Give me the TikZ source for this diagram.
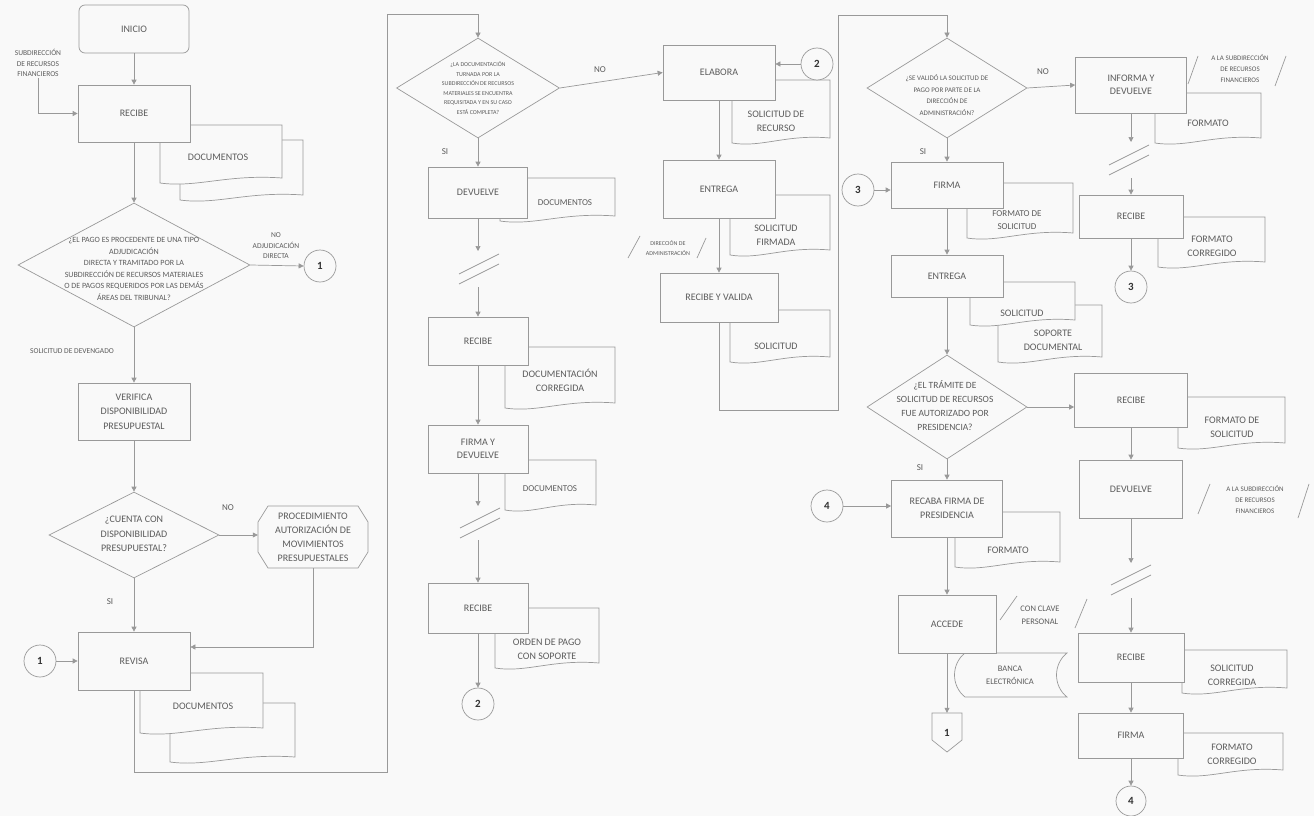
\documentclass[tikz,border=0pt]{standalone}
\usepackage{fontspec}
\setmainfont{Carlito}
\usetikzlibrary{arrows.meta,shapes.geometric,calc}
\definecolor{linec}{gray}{0.6}
\definecolor{txtc}{gray}{0.36}
\definecolor{bg}{gray}{0.975}
\newcommand{\docsh}[4]{\path[docst] (#1,#2) -- (#3,#2) -- (#3,{#4-5}) .. controls ({#1+0.55*(#3-#1)},{#4-9}) and ({#1+0.3*(#3-#1)},{#4+5}) .. (#1,#4) -- cycle;}
\newcommand{\brk}[2]{\draw[ln] ({#1-20},{#2+5}) -- ({#1+20},{#2-15}); \draw[ln] ({#1-20},{#2+15}) -- ({#1+20},{#2-5});}
\begin{document}
\begin{tikzpicture}[x=1pt,y=-1pt,
  every node/.style={text=txtc, align=center, inner sep=1pt},
  ln/.style={draw=linec, line width=0.7pt},
  arr/.style={ln, -{Triangle[length=5pt,width=5pt]}},
  proc/.style={draw=linec, fill=bg, line width=0.7pt, font=\fontsize{10}{13.5}\selectfont},
  dec/.style={draw=linec, fill=bg, line width=0.7pt, diamond, inner sep=0pt},
  conn/.style={draw=linec, fill=bg, circle, line width=0.7pt, minimum size=32pt, inner sep=0pt, font=\fontsize{11}{13}\selectfont\bfseries, text=black!80},
  docst/.style={draw=linec, fill=bg, line width=0.7pt},
  dt/.style={font=\fontsize{10}{14}\selectfont},
  lb/.style={font=\fontsize{7.5}{10.5}\selectfont},
  tl/.style={font=\fontsize{6}{9.5}\selectfont},
  yn/.style={font=\fontsize{9}{11}\selectfont}
]
\fill[bg] (0,0) rectangle (1314,816);
\useasboundingbox (0,0) rectangle (1314,816);

% ---------------- column 1
\node[proc, rounded corners=6pt, minimum width=110pt, minimum height=48pt] (inicio) at (134,29) {INICIO};
\node[lb] (lblsrf) at (38,63) {SUBDIRECCIÓN\\DE RECURSOS\\FINANCIEROS};
\docsh{180}{140}{303}{200}
\docsh{160}{125}{282}{183}
\node[proc, minimum width=112pt, minimum height=57pt] (recibe1) at (134,113.5) {RECIBE};
\node[dt] (t1) at (218,157) {DOCUMENTOS};
\node[dec, minimum width=232pt, minimum height=124pt] (d1) at (134,265) {};
\node[font=\fontsize{8}{11.5}\selectfont] (d1t) at (134,269) {¿EL PAGO ES PROCEDENTE DE UNA TIPO\\ADJUDICACIÓN\\DIRECTA Y TRAMITADO POR LA\\SUBDIRECCIÓN DE RECURSOS MATERIALES\\O DE PAGOS REQUERIDOS POR LAS DEMÁS\\ÁREAS DEL TRIBUNAL?};
\node[lb] (lno1) at (276,246) {NO\\ADJUDICACIÓN\\DIRECTA};
\node[conn] (c1a) at (320,266) {1};
\node[lb] (lsol) at (72,351) {SOLICITUD DE DEVENGADO};
\node[proc, minimum width=112pt, minimum height=57pt, font=\fontsize{10}{14.5}\selectfont] (verifica) at (134,411.5) {VERIFICA\\DISPONIBILIDAD\\PRESUPUESTAL};
\node[dec, minimum width=170pt, minimum height=86pt] (d2) at (134,535) {};
\node[font=\fontsize{10}{14.5}\selectfont] (d2t) at (134,534) {¿CUENTA CON\\DISPONIBILIDAD\\PRESUPUESTAL?};
\node[yn] (lno2) at (228,508) {NO};
\path[docst] (268,506) -- (358,506) -- (368,522) -- (368,552) -- (358,568) -- (268,568) -- (258,552) -- (258,522) -- cycle;
\node[minimum width=110pt, minimum height=62pt, font=\fontsize{10}{14}\selectfont] (hex) at (313,537) {PROCEDIMIENTO\\AUTORIZACIÓN DE\\MOVIMIENTOS\\PRESUPUESTALES};
\node[yn] (lsi2) at (110,602) {SI};
\docsh{170}{703}{295}{762}
\docsh{140}{673}{263}{733}
\node[proc, minimum width=112pt, minimum height=58pt] (revisa) at (134,661) {REVISA};
\node[dt] (t2) at (203,706) {DOCUMENTOS};
\node[conn] (c1b) at (40,661) {1};

% ---------------- column 2
\node[dec, minimum width=163pt, minimum height=100pt] (d3) at (478,88) {};
\node[tl] (d3t) at (478,88) {¿LA DOCUMENTACIÓN\\TURNADA POR LA\\SUBDIRECCIÓN DE RECURSOS\\MATERIALES SE ENCUENTRA\\REQUISITADA Y EN SU CASO\\ESTÁ COMPLETA?};
\node[yn] (lno3) at (600,70) {NO};
\node[yn] (lsi3) at (445,152) {SI};
\docsh{500}{178}{615}{221}
\node[proc, minimum width=99pt, minimum height=51pt] (devuelve1) at (478,192.5) {DEVUELVE};
\node[font=\fontsize{9}{12}\selectfont] (t3) at (565,203) {DOCUMENTOS};
\docsh{505}{347}{615}{408}
\node[proc, minimum width=100pt, minimum height=48pt] (recibe2) at (478,341) {RECIBE};
\node[dt] (t4) at (560,380) {DOCUMENTACIÓN\\CORREGIDA};
\docsh{505}{460}{596}{510}
\node[proc, minimum width=100pt, minimum height=48pt] (firmadev) at (478,449) {FIRMA Y\\DEVUELVE};
\node[font=\fontsize{9}{12}\selectfont] (t5) at (550,489) {DOCUMENTOS};
\docsh{495}{608}{599}{668}
\node[proc, minimum width=100pt, minimum height=50pt] (recibe3) at (478,608) {RECIBE};
\node[dt] (t6) at (547,649) {ORDEN DE PAGO\\CON SOPORTE};
\node[conn] (c2a) at (478,704) {2};

% ---------------- column 3
\docsh{732}{80}{830}{143}
\node[proc, minimum width=112pt, minimum height=55pt] (elabora) at (719,72.5) {ELABORA};
\node[dt] (t7) at (776,121) {SOLICITUD DE\\RECURSO};
\node[conn] (c2b) at (817,64) {2};
\docsh{730}{195}{830}{255}
\node[proc, minimum width=112pt, minimum height=58pt] (entrega1) at (719,189) {ENTREGA};
\node[dt] (t8) at (776,235) {SOLICITUD\\FIRMADA};
\node[tl] (ldir) at (668,248) {DIRECCIÓN DE\\ADMINISTRACIÓN};
\draw[ln] (628,258) -- (640,236);
\draw[ln] (697,258) -- (706,238);
\docsh{730}{310}{830}{362}
\node[proc, minimum width=118pt, minimum height=49pt] (ryv) at (719,297.5) {RECIBE Y VALIDA};
\node[dt] (t9) at (776,346) {SOLICITUD};

% ---------------- column 4
\node[dec, minimum width=160pt, minimum height=100pt] (d4) at (947,88) {};
\node[font=\fontsize{7}{11.5}\selectfont] (d4t) at (947,95) {¿SE VALIDÓ LA SOLICITUD DE\\PAGO POR PARTE DE LA\\DIRECCIÓN DE\\ADMINISTRACIÓN?};
\node[yn] (lno4) at (1043,72) {NO};
\node[yn] (lsi4) at (923,152) {SI};
\docsh{967}{183}{1073}{238}
\node[proc, minimum width=112pt, minimum height=46pt] (firma1) at (947,185) {FIRMA};
\node[font=\fontsize{9}{13}\selectfont] (t10) at (1017,220) {FORMATO DE\\SOLICITUD};
\node[conn] (c3b) at (858,190) {3};
\docsh{998}{305}{1102}{362}
\docsh{970}{282}{1075}{325}
\node[proc, minimum width=112pt, minimum height=42pt] (entrega2) at (947,276) {ENTREGA};
\node[dt] (t11) at (1022,313) {SOLICITUD};
\node[dt] (t12) at (1053,340) {SOPORTE\\DOCUMENTAL};
\node[dec, minimum width=160pt, minimum height=104pt] (d5) at (947,407) {};
\node[font=\fontsize{9.5}{14}\selectfont] (d5t) at (945,406) {¿EL TRÁMITE DE\\SOLICITUD DE RECURSOS\\FUE AUTORIZADO POR\\PRESIDENCIA?};
\node[yn] (lsi5) at (920,468) {SI};
\docsh{955}{512}{1060}{567}
\node[proc, minimum width=111pt, minimum height=57pt] (recaba) at (947,508.5) {RECABA FIRMA DE\\PRESIDENCIA};
\node[dt] (t13) at (1008,550) {FORMATO};
\node[conn] (c4b) at (827,506) {4};
\path[docst] (965,653) -- (1067,653) .. controls (1053,664) and (1053,686) .. (1067,697) -- (965,697) .. controls (951,686) and (951,664) .. (965,653) -- cycle;
\node[proc, minimum width=98pt, minimum height=58pt] (accede) at (947,624) {ACCEDE};
\node[font=\fontsize{8.5}{13}\selectfont] (lcon) at (1040,615) {CON CLAVE\\PERSONAL};
\draw[ln] (1000,620) -- (1017,596);
\draw[ln] (1075,628) -- (1087,599);
\node[font=\fontsize{8.5}{13}\selectfont] (t14) at (1010,675) {BANCA\\ELECTRÓNICA};
\path[docst] (932,713) -- (962,713) -- (962,740) -- (947,752) -- (932,740) -- cycle;
\node[minimum width=30pt, minimum height=39pt, font=\fontsize{11}{13}\selectfont\bfseries, text=black!80] (off1) at (947,732.5) {1};

% ---------------- column 5
\docsh{1155}{93}{1261}{143}
\node[proc, minimum width=111pt, minimum height=56pt] (informa) at (1131,85) {INFORMA Y\\DEVUELVE};
\node[dt] (t15) at (1208,123) {FORMATO};
\node[font=\fontsize{7}{11}\selectfont] (la1) at (1240,69) {A LA SUBDIRECCIÓN\\DE RECURSOS\\FINANCIEROS};
\draw[ln] (1188,84) -- (1198,56);
\draw[ln] (1275,86) -- (1286,56);
\docsh{1158}{217}{1265}{267}
\node[proc, minimum width=104pt, minimum height=43pt] (recibe4) at (1131,216.5) {RECIBE};
\node[dt] (t16) at (1212,246) {FORMATO\\CORREGIDO};
\node[conn] (c3a) at (1131,287) {3};
\docsh{1178}{397}{1285}{448}
\node[proc, minimum width=113pt, minimum height=54pt] (recibe5) at (1131,400) {RECIBE};
\node[dt] (t17) at (1232,427) {FORMATO DE\\SOLICITUD};
\node[proc, minimum width=103pt, minimum height=58pt] (devuelve2) at (1131,489) {DEVUELVE};
\node[font=\fontsize{7}{11}\selectfont] (la2) at (1255,500) {A LA SUBDIRECCIÓN\\DE RECURSOS\\FINANCIEROS};
\draw[ln] (1198,514) -- (1210,484);
\draw[ln] (1298,518) -- (1309,484);
\docsh{1182}{650}{1287}{693}
\node[proc, minimum width=106pt, minimum height=49pt] (recibe6) at (1131,657.5) {RECIBE};
\node[dt] (t18) at (1232,675) {SOLICITUD\\CORREGIDA};
\docsh{1178}{733}{1283}{775}
\node[proc, minimum width=105pt, minimum height=45pt] (firma2) at (1131,735.5) {FIRMA};
\node[dt] (t19) at (1232,754) {FORMATO\\CORREGIDO};
\node[conn, minimum size=30pt] (c4a) at (1131,801) {4};

% ---------------- coordinates
\coordinate (l1a) at (134,772);
\coordinate (l1b) at (387,772);
\coordinate (l1c) at (387,14);
\coordinate (l1d) at (478,14);
\coordinate (l2a) at (719,410);
\coordinate (l2b) at (838,410);
\coordinate (l2c) at (838,15);
\coordinate (l2d) at (947,15);
\coordinate (b1t) at (478,251);
\coordinate (b1b) at (478,287);
\coordinate (b2t) at (478,506);
\coordinate (b2b) at (478,540);
\coordinate (b3t) at (1131,142);
\coordinate (b3b) at (1131,178);
\coordinate (b4t) at (1131,563);
\coordinate (b4b) at (1131,598);

% ---------------- connectors
\draw[arr] (inicio.south) -- (recibe1.north);
\draw[arr] (lblsrf.south) |- (recibe1.west);
\draw[arr] (recibe1.south) -- (d1.north);
\draw[arr] (d1.east) -- (c1a.west);
\draw[arr] (d1.south) -- (verifica.north);
\draw[arr] (verifica.south) -- (d2.north);
\draw[arr] (d2.east) -- (d2.east -| hex.west);
\draw[arr] (hex.south) |- ([yshift=14pt]revisa.east);
\draw[arr] (d2.south) -- (revisa.north);
\draw[arr] (c1b.east) -- (revisa.west);
\draw[arr] (revisa.south) -- (l1a) -- (l1b) -- (l1c) -- (l1d) -- (d3.north);
\draw[arr] (d3.east) -- (elabora.west);
\draw[arr] (d3.south) -- (devuelve1.north);
\draw[arr] (devuelve1.south) -- (b1t);
\brk{479}{269}
\draw[arr] (b1b) -- (recibe2.north);
\draw[arr] (recibe2.south) -- (firmadev.north);
\draw[arr] (firmadev.south) -- (b2t);
\brk{480}{523}
\draw[arr] (b2b) -- (recibe3.north);
\draw[arr] (recibe3.south) -- (c2a.north);
\draw[arr] (c2b.west) -- (c2b.west -| elabora.east);
\draw[arr] (elabora.south) -- (entrega1.north);
\draw[arr] (entrega1.south) -- (ryv.north);
\draw[arr] (ryv.south) -- (l2a) -- (l2b) -- (l2c) -- (l2d) -- (d4.north);
\draw[arr] (d4.east) -- (informa.west);
\draw[arr] (d4.south) -- (firma1.north);
\draw[arr] (c3b.east) -- (c3b.east -| firma1.west);
\draw[arr] (firma1.south) -- (entrega2.north);
\draw[arr] (entrega2.south) -- (d5.north);
\draw[arr] (d5.east) -- (d5.east -| recibe5.west);
\draw[arr] (d5.south) -- (recaba.north);
\draw[arr] (c4b.east) -- (c4b.east -| recaba.west);
\draw[arr] (recaba.south) -- (accede.north);
\draw[arr] (accede.south) -- (off1.north);
\draw[arr] (informa.south) -- (b3t);
\brk{1129}{160}
\draw[arr] (b3b) -- (recibe4.north);
\draw[arr] (recibe4.south) -- (c3a.north);
\draw[arr] (recibe5.south) -- (devuelve2.north);
\draw[arr] (devuelve2.south) -- (b4t);
\brk{1131}{580}
\draw[arr] (b4b) -- (recibe6.north);
\draw[arr] (recibe6.south) -- (firma2.north);
\draw[arr] (firma2.south) -- (c4a.north);
\end{tikzpicture}
\end{document}
